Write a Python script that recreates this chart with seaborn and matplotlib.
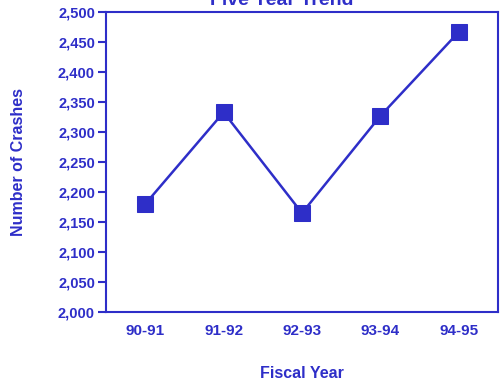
import matplotlib
matplotlib.use("Agg")
import matplotlib.pyplot as plt
import seaborn as sns
import pandas as pd
from matplotlib.ticker import FuncFormatter

years = ["90-91", "91-92", "92-93", "93-94", "94-95"]
crashes = [2180, 2333, 2165, 2327, 2467]
y_ticks = list(range(2000, 2501, 50))

blue = "#2e2ec8"

sns.set_style("ticks")
plt.rcParams['font.family'] = ['Liberation Sans', 'DejaVu Sans']
plt.rcParams['font.weight'] = 'bold'

df = pd.DataFrame({"year": years, "crashes": crashes})

fig = plt.figure(figsize=(5, 3.8), dpi=100)
ax = fig.add_axes([0.212, 0.179, 0.784, 0.789])

sns.lineplot(data=df, x="year", y="crashes", ax=ax, color=blue, lw=1.8,
             marker="s", markersize=12, markeredgecolor=blue,
             markerfacecolor=blue, sort=False)

ax.set_xlim(-0.5, 4.5)
ax.set_ylim(2000, 2500)
ax.set_yticks(y_ticks)
ax.yaxis.set_major_formatter(FuncFormatter(lambda v, p: f"{int(v):,}"))

for s in ax.spines.values():
    s.set_color(blue)
    s.set_linewidth(1.5)

ax.tick_params(axis="y", colors=blue, length=6, width=1.5, labelsize=10.5, pad=2)
ax.tick_params(axis="x", colors=blue, length=0, labelsize=11, pad=9)
for lab in ax.get_xticklabels() + ax.get_yticklabels():
    lab.set_fontweight("bold")

ax.set_xlabel("Fiscal Year", color=blue, fontsize=11.5, fontweight="bold", labelpad=20)
ax.set_ylabel("")
fig.text(0.038, 0.574, "Number of Crashes", color=blue, fontsize=11.5,
         fontweight="bold", rotation=90, ha="center", va="center")

fig.text(0.564, 0.987, "Five Year Trend", color=blue, fontsize=14,
         fontweight="bold", ha="center", va="baseline")

fig.savefig("out.png", dpi=100)
